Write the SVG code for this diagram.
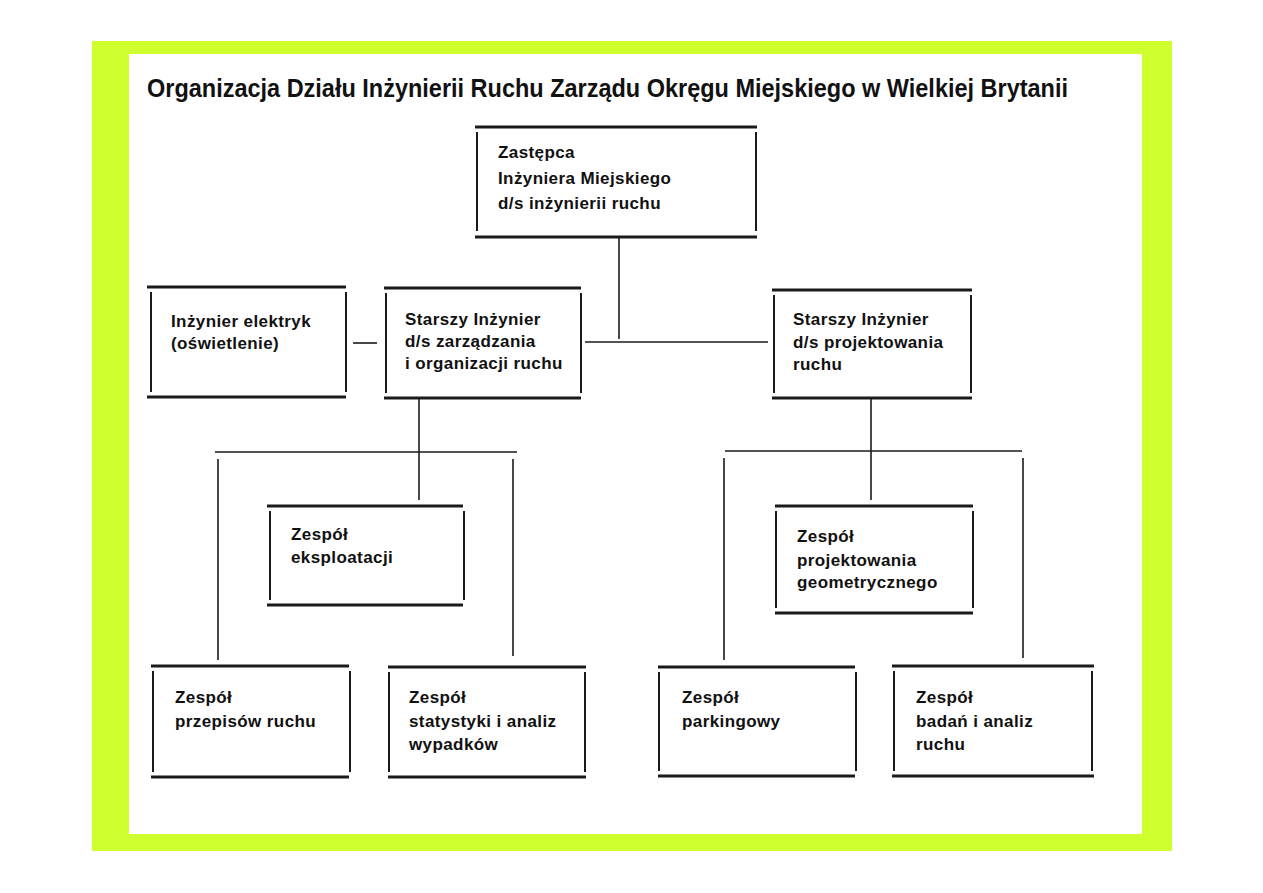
<svg xmlns="http://www.w3.org/2000/svg" width="1263" height="893" viewBox="0 0 1263 893">
<style>
.hl{stroke:#1a1a1a;stroke-width:3;fill:none}
.vl{stroke:#1a1a1a;stroke-width:2;fill:none}
.cn{stroke:#1a1a1a;stroke-width:1.6;fill:none}
.t{font-family:"Liberation Sans",Arial,sans-serif;font-weight:bold;font-size:17px;letter-spacing:0.4px;fill:#111}
.title{font-family:"Liberation Sans",Arial,sans-serif;font-weight:bold;font-size:25px;fill:#111}
</style>
<rect x="0" y="0" width="1263" height="893" fill="#ffffff"/>
<rect x="92" y="41" width="1080" height="810" fill="#d0ff2e"/>
<rect x="129" y="54" width="1013" height="780" fill="#ffffff"/>
<text class="title" x="147" y="97" textLength="921" lengthAdjust="spacingAndGlyphs">Organizacja Działu Inżynierii Ruchu Zarządu Okręgu Miejskiego w Wielkiej Brytanii</text>

<g id="connectors">
<path class="cn" d="M619 237V339"/>
<path class="cn" d="M585 342H768"/>
<path class="cn" d="M353 343H377"/>
<path class="cn" d="M419 398V500"/>
<path class="cn" d="M215 452H517"/>
<path class="cn" d="M218 459V660"/>
<path class="cn" d="M513 459V656"/>
<path class="cn" d="M871 398V500"/>
<path class="cn" d="M725 451H1022"/>
<path class="cn" d="M724 458V660"/>
<path class="cn" d="M1023 458V658"/>
</g>

<g id="n-zastepca">
<path class="hl" d="M475 127H757M475 237H757"/>
<path class="vl" d="M477 132V231M756 132V231"/>
<text class="t" x="498" y="158">Zastępca</text>
<text class="t" x="498" y="184">Inżyniera Miejskiego</text>
<text class="t" x="498" y="209">d/s inżynierii ruchu</text>
</g>

<g id="n-elektryk">
<path class="hl" d="M147 287H346M147 397H346"/>
<path class="vl" d="M151 292V392M346 292V392"/>
<text class="t" x="171" y="327">Inżynier elektryk</text>
<text class="t" x="171" y="349">(oświetlenie)</text>
</g>

<g id="n-zarzadzania">
<path class="hl" d="M384 288H581M384 398H581"/>
<path class="vl" d="M386 293V393M581 293V393"/>
<text class="t" x="405" y="325">Starszy Inżynier</text>
<text class="t" x="405" y="347">d/s zarządzania</text>
<text class="t" x="405" y="369">i organizacji ruchu</text>
</g>

<g id="n-projektowania">
<path class="hl" d="M772 290H972M772 398H972"/>
<path class="vl" d="M774 295V393M971 295V393"/>
<text class="t" x="793" y="325">Starszy Inżynier</text>
<text class="t" x="793" y="348">d/s projektowania</text>
<text class="t" x="793" y="370">ruchu</text>
</g>

<g id="n-eksploatacji">
<path class="hl" d="M267 506H463M267 605H463"/>
<path class="vl" d="M270 511V600M464 511V600"/>
<text class="t" x="291" y="540">Zespół</text>
<text class="t" x="291" y="563">eksploatacji</text>
</g>

<g id="n-geometrycznego">
<path class="hl" d="M775 506H973M775 613H973"/>
<path class="vl" d="M776 511V608M973 511V608"/>
<text class="t" x="797" y="542">Zespół</text>
<text class="t" x="797" y="566">projektowania</text>
<text class="t" x="797" y="588">geometrycznego</text>
</g>

<g id="n-przepisow">
<path class="hl" d="M151 666H349M151 777H349"/>
<path class="vl" d="M153 671V772M350 671V772"/>
<text class="t" x="175" y="703">Zespół</text>
<text class="t" x="175" y="727">przepisów ruchu</text>
</g>

<g id="n-statystyki">
<path class="hl" d="M388 667H586M388 777H586"/>
<path class="vl" d="M389 672V772M585 672V772"/>
<text class="t" x="409" y="703">Zespół</text>
<text class="t" x="409" y="727">statystyki i analiz</text>
<text class="t" x="409" y="750">wypadków</text>
</g>

<g id="n-parkingowy">
<path class="hl" d="M658 667H855M658 776H855"/>
<path class="vl" d="M659 672V771M856 672V771"/>
<text class="t" x="682" y="703">Zespół</text>
<text class="t" x="682" y="727">parkingowy</text>
</g>

<g id="n-badan">
<path class="hl" d="M892 666H1094M892 776H1094"/>
<path class="vl" d="M894 671V771M1092 671V771"/>
<text class="t" x="916" y="703">Zespół</text>
<text class="t" x="916" y="727">badań i analiz</text>
<text class="t" x="916" y="750">ruchu</text>
</g>
</svg>
